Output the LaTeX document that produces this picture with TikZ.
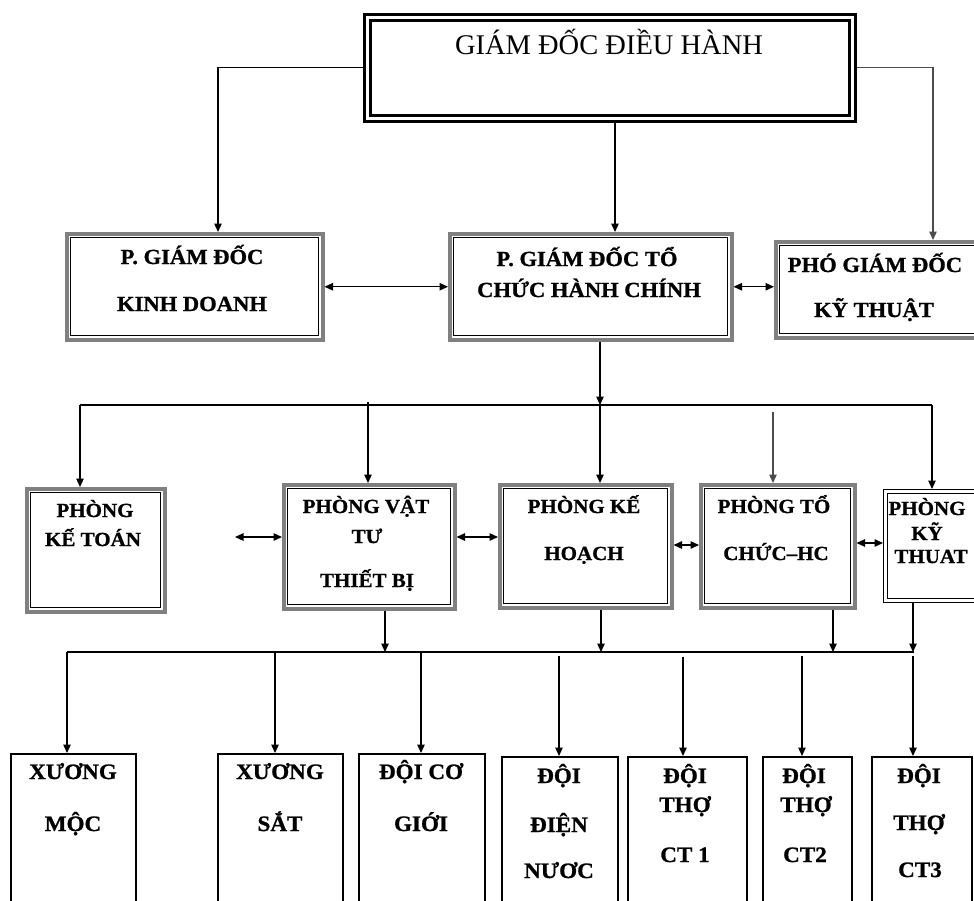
\documentclass[tikz,border=0pt]{standalone}
\usepackage{fontspec}
\setmainfont{Liberation Serif}
\newfontfamily\wideserif{Liberation Serif}[FakeStretch=1.05, BoldFeatures={FakeBold=1}]
\usetikzlibrary{arrows.meta,calc}
\tikzset{
  conn/.style={line width=1.2pt, draw=black},
  arr/.style={conn, -{Triangle[length=8.5pt,width=7.5pt]}},
  darr/.style={conn, {Triangle[length=8.5pt,width=7.5pt]}-{Triangle[length=8.5pt,width=7.5pt]}},
  topbox/.style={rectangle, draw=black, line width=2.5pt, inner sep=0pt, anchor=north west,
    path picture={\draw[black, line width=3pt]
      ([xshift=6pt,yshift=-6pt]path picture bounding box.north west) rectangle
      ([xshift=-6pt,yshift=6pt]path picture bounding box.south east);}},
  gbox/.style={rectangle, draw=gray, line width=3.5pt, inner sep=0pt, anchor=north west,
    path picture={\draw[black, line width=1.2pt]
      ([xshift=4pt,yshift=-4pt]path picture bounding box.north west) rectangle
      ([xshift=-4pt,yshift=4pt]path picture bounding box.south east);}},
  dbox/.style={rectangle, draw=black, line width=1.2pt, inner sep=0pt, anchor=north west,
    path picture={\draw[black, line width=1.2pt]
      ([xshift=4pt,yshift=-4pt]path picture bounding box.north west) rectangle
      ([xshift=-4pt,yshift=4pt]path picture bounding box.south east);}},
  wbox/.style={rectangle, draw=black, line width=1.6pt, inner sep=0pt, anchor=north west},
  ttitle/.style={anchor=base, inner sep=0pt, font=\fontsize{28.5}{30}\selectfont},
  tone/.style={anchor=base, inner sep=0pt, font=\wideserif\bfseries\fontsize{21.5}{22}\selectfont},
  tthree/.style={anchor=base, inner sep=0pt, font=\wideserif\bfseries\fontsize{20}{21}\selectfont},
  tfour/.style={anchor=base, inner sep=0pt, font=\wideserif\bfseries\fontsize{22}{23}\selectfont},
}
\begin{document}
\begin{tikzpicture}[x=1pt, y=-1pt]
\useasboundingbox (0,0) rectangle (974,900);
\clip (0,0) rectangle (974,900);

% ---------- boxes ----------
\node[topbox, minimum width=491, minimum height=107] (gd) at (363,13) {};
\node[gbox, minimum width=256, minimum height=106] (kd) at (65,232) {};
\node[gbox, minimum width=282, minimum height=106] (tc) at (448,232) {};
\node[gbox, minimum width=220, minimum height=96] (pk) at (774,240) {};

\node[gbox, minimum width=138, minimum height=123] (kto) at (25,487) {};
\node[gbox, minimum width=171, minimum height=124] (vt) at (282,483) {};
\node[gbox, minimum width=172, minimum height=123] (kh) at (498,483) {};
\node[gbox, minimum width=154, minimum height=123] (tchc) at (699,483) {};
\node[dbox, minimum width=110, minimum height=113] (kt) at (883,489) {};

\node[wbox, minimum width=125, minimum height=170] (xm) at (10,753) {};
\node[wbox, minimum width=125, minimum height=170] (xs) at (217,753) {};
\node[wbox, minimum width=126, minimum height=170] (dcg) at (358,753) {};
\node[wbox, minimum width=116, minimum height=170] (dn) at (501,756) {};
\node[wbox, minimum width=119, minimum height=170] (ct1) at (627,756) {};
\node[wbox, minimum width=89, minimum height=170] (ct2) at (762,756) {};
\node[wbox, minimum width=100, minimum height=170] (ct3) at (871,756) {};

% ---------- texts ----------
\node[ttitle] (tgd) at (609,54) {GIÁM ĐỐC ĐIỀU HÀNH};
\node[tone] (tkd1) at (192,264) {P. GIÁM ĐỐC};
\node[tone] (tkd2) at (192,311) {KINH DOANH};
\node[tone] (ttc1) at (587,266) {P. GIÁM ĐỐC TỔ};
\node[tone] (ttc2) at (589,297) {CHỨC HÀNH CHÍNH};
\node[tone] (tpk1) at (875,272) {PHÓ GIÁM ĐỐC};
\node[tone] (tpk2) at (874,317) {KỸ THUẬT};

\node[tthree] (tkto1) at (95,517) {PHÒNG};
\node[tthree] (tkto2) at (93,546) {KẾ TOÁN};
\node[tthree] (tvt1) at (366,513) {PHÒNG VẬT};
\node[tthree] (tvt2) at (367,543) {TƯ};
\node[tthree] (tvt3) at (367,587) {THIẾT BỊ};
\node[tthree] (tkh1) at (584,513) {PHÒNG KẾ};
\node[tthree] (tkh2) at (584,560) {HOẠCH};
\node[tthree] (ttchc1) at (774,513) {PHÒNG TỔ};
\node[tthree] (ttchc2) at (776,560) {CHỨC–HC};
\node[tthree] (tkt1) at (927,515) {PHÒNG};
\node[tthree] (tkt2) at (927,540) {KỸ};
\node[tthree] (tkt3) at (931,563) {THUAT};

\node[tfour] (txm1) at (73,779) {XƯƠNG};
\node[tfour] (txm2) at (73,831) {MỘC};
\node[tfour] (txs1) at (280,779) {XƯƠNG};
\node[tfour] (txs2) at (280,831) {SẮT};
\node[tfour] (tdcg1) at (421,779) {ĐỘI CƠ};
\node[tfour] (tdcg2) at (421,831) {GIỚI};
\node[tfour] (tdn1) at (559,783) {ĐỘI};
\node[tfour] (tdn2) at (559,832) {ĐIỆN};
\node[tfour] (tdn3) at (559,878) {NƯƠC};
\node[tfour] (tct11) at (685,783) {ĐỘI};
\node[tfour] (tct12) at (685,812) {THỢ};
\node[tfour] (tct13) at (685,862) {CT 1};
\node[tfour] (tct21) at (804,783) {ĐỘI};
\node[tfour] (tct22) at (806,812) {THỢ};
\node[tfour] (tct23) at (805,862) {CT2};
\node[tfour] (tct31) at (919,783) {ĐỘI};
\node[tfour] (tct32) at (919,830) {THỢ};
\node[tfour] (tct33) at (920,877) {CT3};

% ---------- coordinates ----------
\coordinate (xa) at (218,0);
\coordinate (xb) at (615,0);
\coordinate (xc) at (933,0);
\coordinate (xd) at (600,0);
\coordinate (busAL) at (80,405);
\coordinate (busAR) at (932,405);
\coordinate (v1) at (368,402);
\coordinate (v2) at (773,412);
\coordinate (f1) at (235,537);
\coordinate (h2) at (0,545);
\coordinate (h3) at (0,543);
\coordinate (busBL) at (67,652);
\coordinate (busBR) at (914,652);
\coordinate (u1) at (385,0);
\coordinate (u2) at (601,0);
\coordinate (u3) at (833,0);
\coordinate (u4) at (913,0);
\coordinate (d2) at (275,652);
\coordinate (d3) at (421,652);
\coordinate (d4) at (559,656);
\coordinate (d5) at (683,657);
\coordinate (d6) at (802,656);
\coordinate (d7) at (913,656);

% ---------- connectors ----------
\draw[arr] (gd.west) -| (kd.north -| xa);
\draw[arr] (gd.south -| xb) -- (tc.north -| xb);
\draw[arr, draw=gray!60!black] (gd.east) -| (pk.north -| xc);
\draw[darr] (kd.east) -- (tc.west);
\draw[darr] (tc.east) -- (pk.west |- tc.east);

\draw[arr] (tc.south -| xd) -- (xd |- busAL);
\draw[conn] (busAL) -- (busAR);
\draw[arr] (busAL) -- (kto.north -| busAL);
\draw[arr] (v1) -- (vt.north -| v1);
\draw[arr] (xd |- busAL) -- (kh.north -| xd);
\draw[arr, draw=gray!60!black] (v2) -- (tchc.north -| v2);
\draw[arr] (busAR) -- (kt.north -| busAR);

\draw[darr] (f1) -- (vt.west |- f1);
\draw[darr] (vt.east |- f1) -- (kh.west |- f1);
\draw[darr] (kh.east |- h2) -- (tchc.west |- h2);
\draw[darr] (tchc.east |- h3) -- (kt.west |- h3);

\draw[conn] (busBL) -- (busBR);
\draw[arr] (vt.south -| u1) -- (u1 |- busBL);
\draw[arr] (kh.south -| u2) -- (u2 |- busBL);
\draw[arr] (tchc.south -| u3) -- (u3 |- busBL);
\draw[arr] (kt.south -| u4) -- (u4 |- busBL);

\draw[arr] (busBL) -- (xm.north -| busBL);
\draw[arr] (d2) -- (xs.north -| d2);
\draw[arr] (d3) -- (dcg.north -| d3);
\draw[arr] (d4) -- (dn.north -| d4);
\draw[arr] (d5) -- (ct1.north -| d5);
\draw[arr] (d6) -- (ct2.north -| d6);
\draw[arr] (d7) -- (ct3.north -| d7);
\end{tikzpicture}
\end{document}
